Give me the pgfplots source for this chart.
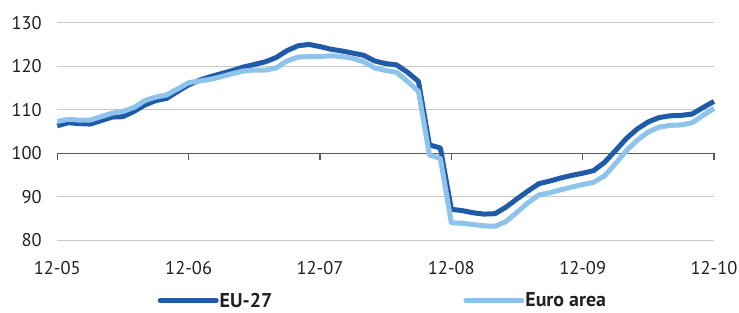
\documentclass[border=0pt]{standalone}
\usepackage{pgfplots}
\pgfplotsset{compat=1.18}
\usepackage{pgfplotstable}
\usepackage{fontspec}
\setmainfont{PT Sans}
\definecolor{eudark}{RGB}{31,91,168}
\definecolor{eulight}{RGB}{142,196,235}
\definecolor{gridgray}{RGB}{200,200,200}
\definecolor{axgray}{RGB}{90,90,90}
\definecolor{txt}{RGB}{35,31,32}

\pgfplotstableread{
m v
0 106.3
1 107.0
2 106.8
3 106.7
4 107.5
5 108.3
6 108.4
7 109.6
8 111.1
9 112.1
10 112.6
11 114.2
12 115.7
13 116.8
14 117.6
15 118.3
16 119.0
17 119.8
18 120.4
19 121.0
20 122.0
21 123.6
22 124.7
23 125.0
24 124.5
25 123.9
26 123.5
27 123.0
28 122.5
29 121.2
30 120.6
31 120.3
32 118.6
33 116.5
34 101.9
35 101.2
36 87.1
37 86.8
38 86.3
39 86.0
40 86.1
41 87.6
42 89.5
43 91.3
44 93.0
45 93.6
46 94.3
47 94.9
48 95.4
49 96.0
50 97.9
51 100.6
52 103.4
53 105.6
54 107.2
55 108.2
56 108.6
57 108.7
58 109.0
59 110.5
60 111.9
}\eudata

\pgfplotstableread{
m v
0 107.3
1 107.8
2 107.6
3 107.6
4 108.4
5 109.2
6 109.6
7 110.5
8 112.1
9 112.9
10 113.4
11 114.8
12 116.2
13 116.6
14 117.0
15 117.6
16 118.3
17 118.9
18 119.1
19 119.1
20 119.6
21 121.2
22 122.1
23 122.2
24 122.2
25 122.4
26 122.2
27 121.8
28 121.0
29 119.6
30 119.0
31 118.6
32 116.5
33 114.2
34 99.6
35 98.8
36 84.0
37 83.9
38 83.6
39 83.3
40 83.2
41 84.3
42 86.4
43 88.6
44 90.4
45 90.9
46 91.6
47 92.2
48 92.8
49 93.3
50 94.8
51 97.6
52 100.6
53 103.0
54 104.9
55 106.0
56 106.4
57 106.5
58 107.0
59 108.7
60 110.3
}\eadata

\begin{document}
\begin{tikzpicture}
\begin{axis}[
  scale only axis,
  width=656.7bp, height=217.5bp,
  xmin=0, xmax=60, ymin=80, ymax=130,
  xtick={0,12,24,36,48,60},
  xticklabels={12-05,12-06,12-07,12-08,12-09,12-10},
  ytick={80,90,100,110,120,130},
  axis line style={draw=none},
  major tick length=0pt,
  ymajorgrids,
  grid style={gridgray, line width=1.3bp},
  /pgf/number format/assume math mode=true,
  ticklabel style={font=\fontsize{18.5}{18.5}\selectfont, text=txt},
  yticklabel style={xshift=-12bp},
  xticklabel style={yshift=-18bp},
  clip=false,
  legend columns=2,
  legend style={draw=none, fill=none, inner sep=0pt,
    at={(rel axis cs:0.1526,-0.278)}, anchor=west,
    font=\fontsize{20}{20}\selectfont\bfseries,
    text=txt,
    nodes={inner xsep=1bp, inner ysep=0pt},
    /tikz/every even column/.append style={column sep=190bp}},
  legend image code/.code={\draw[#1, line cap=round] (0bp,0bp) -- (56bp,0bp);},
]
\draw[axgray, line width=1.1bp] (axis cs:0,100) -- (axis cs:60,100);
\draw[axgray, line width=1.1bp] (axis cs:0,100) -- ([yshift=-6.5bp]axis cs:0,100);
\draw[axgray, line width=1.1bp] (axis cs:12,100) -- ([yshift=-6.5bp]axis cs:12,100);
\draw[axgray, line width=1.1bp] (axis cs:24,100) -- ([yshift=-6.5bp]axis cs:24,100);
\draw[axgray, line width=1.1bp] (axis cs:36,100) -- ([yshift=-6.5bp]axis cs:36,100);
\draw[axgray, line width=1.1bp] (axis cs:48,100) -- ([yshift=-6.5bp]axis cs:48,100);
\draw[axgray, line width=1.1bp] (axis cs:60,100) -- ([yshift=-6.5bp]axis cs:60,100);
\addplot[eudark, line width=5bp, line join=round] table[x=m,y=v] {\eudata};
\addlegendentry{EU-27}
\addplot[eulight, line width=5bp, line join=round] table[x=m,y=v] {\eadata};
\addlegendentry{Euro area}
\coordinate (sw) at (rel axis cs:0,0);
\coordinate (ne) at (rel axis cs:1,1);
\end{axis}
\pgfresetboundingbox
\useasboundingbox ([shift={(-57.3bp,-72.8bp)}]sw) rectangle ([shift={(25bp,22.7bp)}]ne);
\end{tikzpicture}
\end{document}
